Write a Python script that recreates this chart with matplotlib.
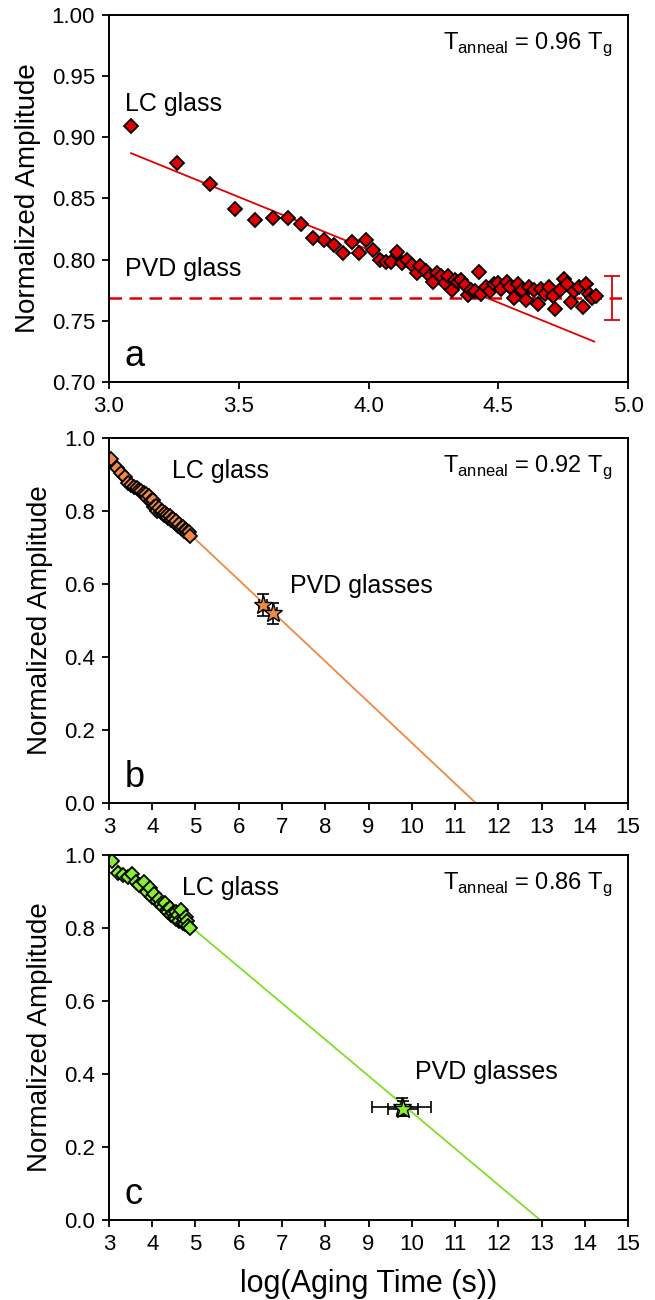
import numpy as np
import matplotlib
matplotlib.use('Agg')
import matplotlib.pyplot as plt

plt.rcParams['font.family'] = ['Liberation Sans', 'DejaVu Sans']

# panel a: T_anneal = 0.96 Tg
a_x = [3.085, 3.262, 3.389, 3.486, 3.563, 3.632, 3.69, 3.74, 3.786, 3.828,
       3.867, 3.90, 3.935, 3.963, 3.99, 4.017, 4.044, 4.067, 4.087, 4.11,
       4.13, 4.148, 4.168, 4.187, 4.20, 4.22, 4.237, 4.25, 4.265, 4.28,
       4.295, 4.307, 4.32, 4.333, 4.344, 4.356, 4.37, 4.383, 4.395, 4.41,
       4.425, 4.433, 4.452, 4.468, 4.483, 4.50, 4.51, 4.533, 4.545, 4.56,
       4.577, 4.59, 4.607, 4.62, 4.638, 4.653, 4.665, 4.68, 4.695, 4.71,
       4.72, 4.737, 4.753, 4.765, 4.78, 4.79, 4.81, 4.827, 4.837, 4.85,
       4.863, 4.875]
a_y = [0.909, 0.879, 0.862, 0.841, 0.832, 0.834, 0.834, 0.829, 0.818, 0.816,
       0.812, 0.805, 0.814, 0.805, 0.816, 0.808, 0.800, 0.798, 0.798, 0.806,
       0.797, 0.800, 0.796, 0.789, 0.795, 0.791, 0.787, 0.782, 0.789, 0.787,
       0.781, 0.787, 0.775, 0.783, 0.782, 0.783, 0.779, 0.771, 0.775, 0.774,
       0.790, 0.772, 0.778, 0.774, 0.780, 0.781, 0.776, 0.782, 0.778, 0.769,
       0.780, 0.775, 0.767, 0.778, 0.775, 0.764, 0.776, 0.772, 0.778, 0.770,
       0.760, 0.775, 0.784, 0.780, 0.765, 0.774, 0.778, 0.761, 0.780, 0.772,
       0.769, 0.770]
a_fit_x = [3.085, 4.87]
a_fit_y = [0.887, 0.733]
a_pvd = 0.769
a_pvd_err = 0.018

# panel b: T_anneal = 0.92 Tg
b_x = [3.05, 3.18, 3.27, 3.36, 3.44, 3.52, 3.58, 3.64, 3.70, 3.75,
       3.80, 3.85, 3.89, 3.93, 3.97, 4.01, 4.05, 4.09, 4.12, 4.16,
       4.20, 4.23, 4.27, 4.30, 4.34, 4.37, 4.41, 4.44, 4.48, 4.52,
       4.55, 4.59, 4.62, 4.66, 4.70, 4.73, 4.77, 4.80, 4.84, 4.87]
b_y = [0.942, 0.918, 0.905, 0.893, 0.876, 0.870, 0.866, 0.862, 0.858, 0.856,
       0.850, 0.846, 0.835, 0.842, 0.826, 0.830, 0.812, 0.815, 0.800, 0.808,
       0.796, 0.800, 0.790, 0.795, 0.788, 0.782, 0.785, 0.775, 0.778, 0.768,
       0.772, 0.760, 0.765, 0.752, 0.755, 0.745, 0.748, 0.740, 0.742, 0.732]
b_fit_x = [3.05, 11.48]
b_fit_y = [0.94, 0.0]
b_pvd_x = [6.56, 6.79]
b_pvd_y = [0.542, 0.52]
b_pvd_xerr = [0.1, 0.1]
b_pvd_yerr = [0.031, 0.029]

# panel c: T_anneal = 0.86 Tg
c_x = [3.07, 3.21, 3.32, 3.44, 3.53, 3.62, 3.70, 3.81, 3.88, 3.95,
       4.00, 4.05, 4.10, 4.15, 4.20, 4.25, 4.29, 4.33, 4.37, 4.40,
       4.44, 4.48, 4.52, 4.55, 4.56, 4.60, 4.63, 4.66, 4.70, 4.73,
       4.76, 4.78, 4.80, 4.83, 4.87]
c_y = [0.984, 0.951, 0.945, 0.940, 0.948, 0.925, 0.918, 0.926, 0.900, 0.910,
       0.885, 0.893, 0.875, 0.880, 0.865, 0.858, 0.868, 0.850, 0.845, 0.855,
       0.835, 0.840, 0.830, 0.845, 0.825, 0.835, 0.820, 0.850, 0.815, 0.825,
       0.810, 0.830, 0.818, 0.805, 0.800]
c_fit_x = [3.07, 12.97]
c_fit_y = [0.985, 0.0]
c_pvd_x = [9.77, 9.80]
c_pvd_y = [0.31, 0.305]
c_pvd_xerr = [0.68, 0.34]
c_pvd_yerr = [0.025, 0.02]

red = '#E00000'
orange = '#EE8844'
green = '#88EE33'
green_line = '#7EE024'

fig = plt.figure(figsize=(6.55, 13), dpi=100)
ax_a = fig.add_axes([0.1664, 0.7062, 0.7924, 0.2823])
ax_b = fig.add_axes([0.1664, 0.3823, 0.7924, 0.2808])
ax_c = fig.add_axes([0.1664, 0.0615, 0.7924, 0.2808])

tick_fs = 16
lab_fs = 20
txt_fs = 18
ms = 7

def style(ax):
    for s in ax.spines.values():
        s.set_linewidth(1.4)
    ax.tick_params(direction='out', length=5, width=1.3, labelsize=tick_fs,
                   top=False, right=False, pad=5)
    ax.set_ylabel('Normalized Amplitude', fontsize=lab_fs, labelpad=8)

# ---- a ----
ax = ax_a
ax.axhline(a_pvd, color=red, lw=1.8, ls=(0, (5, 3)))
ax.plot(a_fit_x, a_fit_y, color=red, lw=1.3)
ax.plot(a_x, a_y, 'D', ms=ms, mfc=red, mec='black', mew=1.3)
ax.errorbar([4.94], [a_pvd], yerr=[a_pvd_err], color=red, capsize=6, lw=1.3, capthick=1.3)
ax.set_xlim(3.0, 5.0)
ax.set_ylim(0.70, 1.00)
ax.set_xticks(np.arange(3.0, 5.01, 0.5))
ax.set_yticks(np.arange(0.70, 1.001, 0.05))
ax.xaxis.set_major_formatter(plt.FormatStrFormatter('%.1f'))
ax.yaxis.set_major_formatter(plt.FormatStrFormatter('%.2f'))
style(ax)
ax.text(3.06, 0.927, 'LC glass', fontsize=txt_fs, va='center')
ax.text(3.06, 0.792, 'PVD glass', fontsize=txt_fs, va='center')
ax.text(0.97, 0.92, r'T$_\mathregular{anneal}$ = 0.96 T$_\mathregular{g}$',
        transform=ax.transAxes, ha='right', va='center', fontsize=17)
ax.text(0.03, 0.07, 'a', transform=ax.transAxes, fontsize=26, va='center')

# ---- b ----
ax = ax_b
ax.plot(b_fit_x, b_fit_y, color=orange, lw=1.3)
ax.plot(b_x, b_y, 'D', ms=ms, mfc=orange, mec='black', mew=1.3)
ax.errorbar(b_pvd_x, b_pvd_y, xerr=b_pvd_xerr, yerr=b_pvd_yerr, fmt='none',
            ecolor='black', capsize=4, lw=1.2, capthick=1.2)
ax.plot(b_pvd_x, b_pvd_y, '*', ms=14, mfc=orange, mec='black', mew=1.0)
ax.set_xlim(3, 15)
ax.set_ylim(0, 1.0)
ax.set_xticks(range(3, 16))
ax.set_yticks(np.arange(0, 1.01, 0.2))
ax.yaxis.set_major_formatter(plt.FormatStrFormatter('%.1f'))
style(ax)
ax.text(4.46, 0.91, 'LC glass', fontsize=txt_fs, va='center')
ax.text(7.18, 0.595, 'PVD glasses', fontsize=txt_fs, va='center')
ax.text(0.97, 0.92, r'T$_\mathregular{anneal}$ = 0.92 T$_\mathregular{g}$',
        transform=ax.transAxes, ha='right', va='center', fontsize=17)
ax.text(0.03, 0.07, 'b', transform=ax.transAxes, fontsize=26, va='center')

# ---- c ----
ax = ax_c
ax.plot(c_fit_x, c_fit_y, color=green_line, lw=1.3)
ax.plot(c_x, c_y, 'D', ms=ms, mfc=green, mec='black', mew=1.3)
ax.errorbar(c_pvd_x, c_pvd_y, xerr=c_pvd_xerr, yerr=c_pvd_yerr, fmt='none',
            ecolor='black', capsize=4, lw=1.2, capthick=1.2)
ax.plot(c_pvd_x, c_pvd_y, '*', ms=14, mfc=green, mec='black', mew=1.0)
ax.set_xlim(3, 15)
ax.set_ylim(0, 1.0)
ax.set_xticks(range(3, 16))
ax.set_yticks(np.arange(0, 1.01, 0.2))
ax.yaxis.set_major_formatter(plt.FormatStrFormatter('%.1f'))
style(ax)
ax.set_xlabel('log(Aging Time (s))', fontsize=22, labelpad=10)
ax.text(4.69, 0.91, 'LC glass', fontsize=txt_fs, va='center')
ax.text(10.07, 0.405, 'PVD glasses', fontsize=txt_fs, va='center')
ax.text(0.97, 0.92, r'T$_\mathregular{anneal}$ = 0.86 T$_\mathregular{g}$',
        transform=ax.transAxes, ha='right', va='center', fontsize=17)
ax.text(0.03, 0.07, 'c', transform=ax.transAxes, fontsize=26, va='center')

fig.savefig('out.png', dpi=100)
